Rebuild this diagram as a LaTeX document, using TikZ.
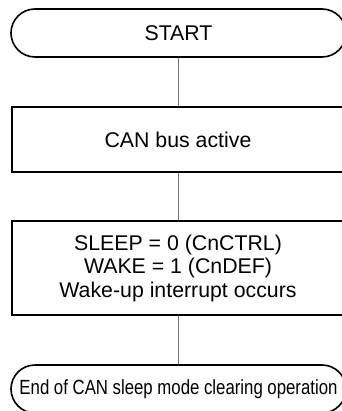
\documentclass[tikz,border=0pt]{standalone}
\usepackage{fontspec}
\setmainfont{Liberation Sans}
\usepackage{graphicx}
\usetikzlibrary{shapes.misc}
\begin{document}
\begin{tikzpicture}[x=1pt,y=-1pt,
  every node/.style={font=\fontsize{21.3}{23.5}\selectfont, inner sep=0pt, align=center},
  term/.style={draw=black, line width=1.6pt, rounded rectangle, minimum width=335pt, minimum height=48pt},
  proc/.style={draw=black, line width=1.6pt, rectangle, minimum width=332pt},
  conn/.style={draw=black!55, line width=0.9pt}]
\useasboundingbox (0,0) rectangle (341,411);
\node[term] (start) at (178.5,33) {START};
\node[proc, minimum height=65pt] (b1) at (178,139.5) {CAN bus active};
\node[proc, minimum height=94pt] (b2) at (178,268) {SLEEP = 0 (CnCTRL)\\WAKE = 1 (CnDEF)\\Wake-up interrupt occurs};
\node[term] (end) at (178.5,389) {\resizebox{318pt}{\height}{\fontsize{20.5}{23.5}\selectfont End of CAN sleep mode clearing operation}};
\draw[conn] (start.south -| b1.north) -- (b1.north);
\draw[conn] (b1) -- (b2);
\draw[conn] (b2.south) -- (b2.south |- end.north);
\end{tikzpicture}
\end{document}
